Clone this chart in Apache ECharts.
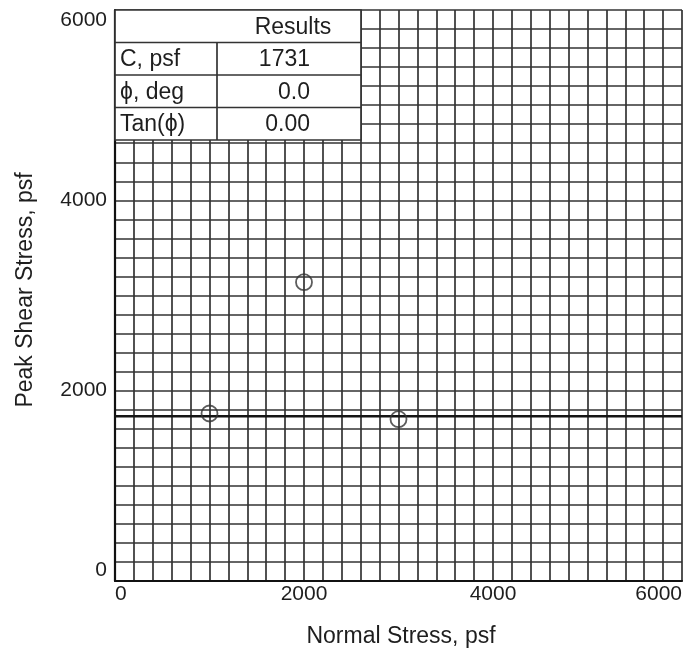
<!DOCTYPE html>
<html>
<head>
<meta charset="utf-8">
<script src="https://cdn.jsdelivr.net/npm/echarts@6/dist/echarts.min.js"></script>
<style>
html,body{margin:0;padding:0;background:#fff;}
#chart{width:699px;height:656px;}
</style>
</head>
<body>
<div id="chart"></div>
<script>
// ---- data ----
var normalStress = [1000, 2000, 3000];
var peakShear = [1760, 3140, 1700];
var cohesion = 1731;
var fitRange = [0, 6000];
var axisMin = 0, axisMax = 6000, gridStep = 200, labelStep = 2000;
var tableHeader = 'Results';
var tableLabels = ['C, psf', '\u03D5, deg', 'Tan(\u03D5)'];
var tableValues = ['1731', '0.0', '0.00'];
var xTitle = 'Normal Stress, psf';
var yTitle = 'Peak Shear Stress, psf';

var font = '"Liberation Sans", Arial, sans-serif';
var ink = '#1e1e1e';

var chart = echarts.init(document.getElementById('chart'));

var gridL = 115, gridT = 10, gridR = 17, gridB = 75;

function axis(isX) {
  return {
    type: 'value', min: axisMin, max: axisMax, interval: gridStep,
    axisLine: {show: true, onZero: false, lineStyle: {color: '#111', width: 2.2}},
    axisTick: {show: false},
    splitLine: {show: true, lineStyle: {color: '#333', width: 1.7}},
    axisLabel: {
      show: true, color: ink, fontFamily: font, fontSize: 21,
      margin: isX ? 3 : 8,
      formatter: function (v) { return v % labelStep === 0 ? String(v) : ''; },
      showMinLabel: true, showMaxLabel: true,
      alignMinLabel: isX ? 'left' : undefined,
      alignMaxLabel: isX ? 'right' : undefined,
      verticalAlignMaxLabel: isX ? undefined : 'top',
      verticalAlignMinLabel: isX ? undefined : 'bottom'
    }
  };
}

// table graphic
var tX = gridL, tY = gridT, tW = 246, rowH = 32.5, colX = 217 - gridL;
var tableEls = [];
var tFont = '23px ' + font;
tableEls.push({type: 'rect', shape: {x: tX, y: tY, width: tW, height: rowH * 4},
  style: {fill: '#fff', stroke: '#333', lineWidth: 1.7}, z: 100});
for (var i = 1; i < 4; i++) {
  tableEls.push({type: 'line', shape: {x1: tX, y1: tY + rowH * i, x2: tX + tW, y2: tY + rowH * i},
    style: {stroke: '#333', lineWidth: 1.7}, z: 101});
}
tableEls.push({type: 'line', shape: {x1: tX + colX, y1: tY + rowH, x2: tX + colX, y2: tY + rowH * 4},
  style: {stroke: '#333', lineWidth: 1.7}, z: 101});
tableEls.push({type: 'text', x: 293, y: tY + rowH / 2 + 1,
  style: {text: tableHeader, font: tFont, fill: ink, textAlign: 'center', textVerticalAlign: 'middle'}, z: 102});
for (var j = 0; j < tableLabels.length; j++) {
  tableEls.push({type: 'text', x: tX + 5, y: tY + rowH * (j + 1.5) + 1,
    style: {text: tableLabels[j], font: tFont, fill: ink, textAlign: 'left', textVerticalAlign: 'middle'}, z: 102});
  tableEls.push({type: 'text', x: 310, y: tY + rowH * (j + 1.5) + 1,
    style: {text: tableValues[j], font: tFont, fill: ink, textAlign: 'right', textVerticalAlign: 'middle'}, z: 102});
}
tableEls.push({type: 'text', x: 401, y: 637,
  style: {text: xTitle, font: '23px ' + font, fill: ink, textAlign: 'center', textVerticalAlign: 'middle'}});
tableEls.push({type: 'text', x: 26, y: 290, rotation: Math.PI / 2,
  style: {text: yTitle, font: '23px ' + font, fill: ink, textAlign: 'center', textVerticalAlign: 'middle'}});

chart.setOption({
  animation: false,
  backgroundColor: '#fff',
  grid: {left: gridL, top: gridT, right: gridR, bottom: gridB, containLabel: false},
  xAxis: axis(true),
  yAxis: axis(false),
  graphic: tableEls,
  series: [
    {
      type: 'line',
      data: fitRange.map(function (x) { return [x, cohesion]; }),
      symbol: 'none',
      lineStyle: {color: '#151515', width: 2.5},
      z: 3
    },
    {
      type: 'scatter',
      data: normalStress.map(function (x, k) { return [x, peakShear[k]]; }),
      symbol: 'circle', symbolSize: 16,
      itemStyle: {color: 'rgba(255,255,255,0)', borderColor: '#333', borderWidth: 1.8},
      z: 4
    }
  ]
});
</script>
</body>
</html>
